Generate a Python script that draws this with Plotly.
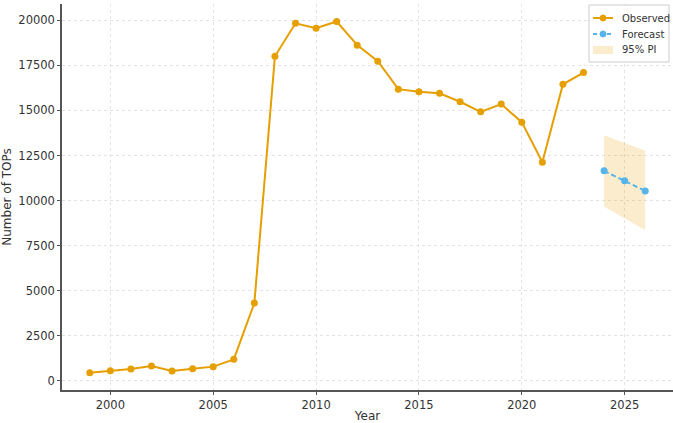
import plotly.graph_objects as go

# Observed yearly counts
years_obs = [1999, 2000, 2001, 2002, 2003, 2004, 2005, 2006, 2007, 2008, 2009,
             2010, 2011, 2012, 2013, 2014, 2015, 2016, 2017, 2018, 2019, 2020,
             2021, 2022, 2023]
tops_obs = [460, 570, 665, 830, 555, 680, 795, 1200, 4320, 18000, 19830,
            19560, 19930, 18620, 17730, 16180, 16030, 15950, 15480, 14920,
            15350, 14350, 12130, 16450, 17100]

# Forecast with 95% prediction interval
years_fc = [2024, 2025, 2026]
tops_fc = [11650, 11100, 10530]
pi_upper = [13630, 13200, 12760]
pi_lower = [9660, 9010, 8370]

y_ticks = [0, 2500, 5000, 7500, 10000, 12500, 15000, 17500, 20000]
x_ticks = [2000, 2005, 2010, 2015, 2020, 2025]

ORANGE = "#E69F00"
BLUE = "#56B4E9"
PI_FILL = "rgba(230,159,0,0.2)"
FONT = "DejaVu Sans"

W, H = 673, 423
M_L, M_R, M_T, M_B = 62, 0, 4, 33
PW, PH = W - M_L - M_R, H - M_T - M_B


def px(x):
    return (x - M_L) / PW


def py(y):
    return (H - M_B - y) / PH


fig = go.Figure()

fig.add_trace(go.Scatter(
    x=years_fc + years_fc[::-1], y=pi_upper + pi_lower[::-1],
    fill="toself", fillcolor=PI_FILL, line=dict(width=0),
    mode="lines", name="95% PI", hoverinfo="skip"))

fig.add_trace(go.Scatter(
    x=years_obs, y=tops_obs, mode="lines+markers", name="Observed",
    line=dict(color=ORANGE, width=2), marker=dict(color=ORANGE, size=7)))

fig.add_trace(go.Scatter(
    x=years_fc, y=tops_fc, mode="lines+markers", name="Forecast",
    line=dict(color=BLUE, width=2, dash="5px,3px"), marker=dict(color=BLUE, size=7)))

# Compact legend box drawn in the upper-right corner of the plot area
shapes = [
    dict(type="rect", xref="paper", yref="paper",
         x0=px(589), x1=px(669), y0=py(62), y1=py(5),
         fillcolor="rgba(255,255,255,0.85)", line=dict(color="#cccccc", width=1),
         layer="above"),
    dict(type="line", xref="paper", yref="paper",
         x0=px(593), x1=px(613), y0=py(18), y1=py(18),
         line=dict(color=ORANGE, width=2), layer="above"),
    dict(type="circle", xref="paper", yref="paper",
         x0=px(600), x1=px(606), y0=py(21), y1=py(15),
         fillcolor=ORANGE, line=dict(color=ORANGE, width=1), layer="above"),
    dict(type="line", xref="paper", yref="paper",
         x0=px(593), x1=px(613), y0=py(34), y1=py(34),
         line=dict(color=BLUE, width=2, dash="4px,3px"), layer="above"),
    dict(type="circle", xref="paper", yref="paper",
         x0=px(600), x1=px(606), y0=py(37), y1=py(31),
         fillcolor=BLUE, line=dict(color=BLUE, width=1), layer="above"),
    dict(type="rect", xref="paper", yref="paper",
         x0=px(593), x1=px(613), y0=py(54), y1=py(46),
         fillcolor=PI_FILL, line=dict(width=0), layer="above"),
]
annotations = [
    dict(text=label, xref="paper", yref="paper", x=px(620), y=py(yy),
         xanchor="left", yanchor="middle", showarrow=False,
         font=dict(size=10, color="#333333", family=FONT))
    for label, yy in [("Observed", 18), ("Forecast", 34), ("95% PI", 50)]
]

grid = dict(showgrid=True, gridcolor="#e3e3e3", griddash="dot", gridwidth=1)

fig.update_layout(
    width=W, height=H,
    margin=dict(l=M_L, r=M_R, t=M_T, b=M_B),
    paper_bgcolor="white", plot_bgcolor="white",
    font=dict(family=FONT, size=11.5, color="#333333"),
    showlegend=False,
    shapes=shapes,
    annotations=annotations,
    xaxis=dict(range=[1997.65, 2027.35], tickvals=x_ticks,
               ticktext=[str(v) for v in x_ticks],
               title=dict(text="Year", standoff=4, font=dict(size=12)),
               showline=True, linecolor="#555555", linewidth=1.5,
               ticks="outside", ticklen=3, tickcolor="#555555",
               zeroline=False, **grid),
    yaxis=dict(range=[-500, 20900], tickvals=y_ticks,
               ticktext=[str(v) for v in y_ticks],
               title=dict(text="Number of TOPs", standoff=6, font=dict(size=12)),
               showline=True, linecolor="#555555", linewidth=1.5,
               ticks="outside", ticklen=3, tickcolor="#555555",
               zeroline=False, **grid),
)

fig.write_html("out.html")
